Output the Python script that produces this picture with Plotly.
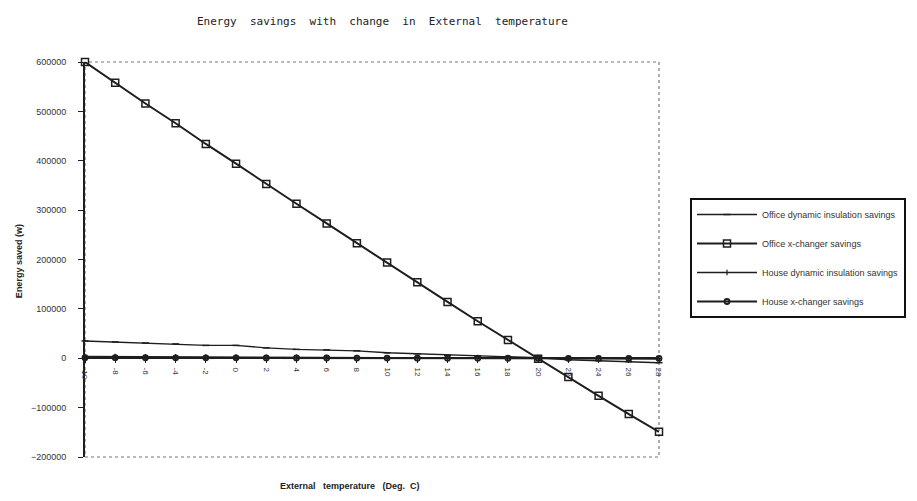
import plotly.graph_objects as go

temps = [-10, -8, -6, -4, -2, 0, 2, 4, 6, 8, 10, 12, 14, 16, 18, 20, 22, 24, 26, 28]
office_dyn = [35000, 33000, 31000, 29000, 26000, 26000, 21000, 18000, 17000, 15000,
              11000, 9000, 6000, 4000, 3000, 1000, -3000, -5000, -7000, -9000]
office_xch = [600000, 558000, 516000, 476000, 434000, 394000, 353000, 313000, 273000, 233000,
              194000, 154000, 114000, 75000, 37000, -1000, -38000, -76000, -113000, -149000]
house_dyn = [3500, 3200, 3000, 2700, 2500, 2300, 2000, 1800, 1600, 1300,
             1100, 900, 700, 400, 200, 0, -300, -500, -700, -900]
house_xch = [1200, 1100, 1000, 900, 900, 800, 700, 600, 500, 400,
             300, 200, 200, 100, 0, 0, -100, -200, -300, -400]

names = ["Office dynamic insulation savings", "Office x-changer savings",
         "House dynamic insulation savings", "House x-changer savings"]

ink = "#1e1e1e"
fig = go.Figure()
specs = [
    (office_dyn, dict(symbol="line-ew", size=5, line=dict(width=1.5, color=ink)), 1.4),
    (office_xch, dict(symbol="square-open", size=7, line=dict(width=1.5, color=ink)), 2.0),
    (house_dyn, dict(symbol="cross-thin", size=4, line=dict(width=1.2, color=ink)), 1.4),
    (house_xch, dict(symbol="circle-open", size=5, line=dict(width=1.8, color=ink)), 2.0),
]
for i, (vals, mk, lw) in enumerate(specs):
    fig.add_trace(go.Scatter(
        x=temps, y=vals, name=names[i], mode="lines+markers",
        line=dict(color=ink, width=lw), marker=dict(color=ink, **mk),
        cliponaxis=False, legendgroup=f"g{i}"))

L, R, T, B = 85, 257, 62, 44
W, H = 917, 501
pw, ph = W - L - R, H - T - B

def px_x(x):
    return (x - L) / pw

def px_y(y):
    return (H - B - y) / ph

font = "Liberation Sans, Arial, sans-serif"
fig.update_layout(
    width=W, height=H,
    margin=dict(l=L, r=R, t=T, b=B),
    paper_bgcolor="white", plot_bgcolor="white",
    showlegend=True,
    legend=dict(x=px_x(690), y=px_y(198), xanchor="left", yanchor="top",
                bordercolor="#111", borderwidth=2, bgcolor="white",
                font=dict(family=font, size=9, color="#333"),
                tracegroupgap=10, itemwidth=60),
    xaxis=dict(range=[-10, 28], tickvals=temps, ticktext=[str(t) for t in temps],
               tickangle=90, anchor="free", position=0.25,
               showline=True, linecolor=ink, linewidth=1.5,
               ticks="outside", ticklen=4, tickcolor=ink, tickwidth=1,
               tickfont=dict(family=font, size=8, color="#333"),
               showgrid=False, zeroline=False, ticklabelstandoff=3),
    yaxis=dict(range=[-200000, 600000], dtick=100000, tickformat="d",
               showline=True, linecolor=ink, linewidth=2,
               ticks="outside", ticklen=5, tickcolor=ink,
               tickfont=dict(family=font, size=9, color="#333"),
               showgrid=False, zeroline=False, ticklabelstandoff=10),
    shapes=[dict(type="rect", xref="paper", yref="paper", x0=0, x1=1, y0=0, y1=1,
                 line=dict(color="#777", width=1.2, dash="dot"), layer="below")],
    annotations=[
        dict(text="Energy  savings  with  change  in  External  temperature",
             x=px_x(383), y=px_y(13), xref="paper", yref="paper", showarrow=False,
             font=dict(family="DejaVu Sans Mono, monospace", size=11, color="#222")),
        dict(text="<b>External   temperature   (Deg.  C)</b>",
             x=px_x(350), y=px_y(493), xref="paper", yref="paper", showarrow=False,
             font=dict(family=font, size=9, color="#222")),
        dict(text="<b>Energy saved (w)</b>", textangle=-90,
             x=px_x(12), y=px_y(261), xref="paper", yref="paper", showarrow=False,
             font=dict(family=font, size=9, color="#222")),
    ],
)

fig.write_html("out.html")
